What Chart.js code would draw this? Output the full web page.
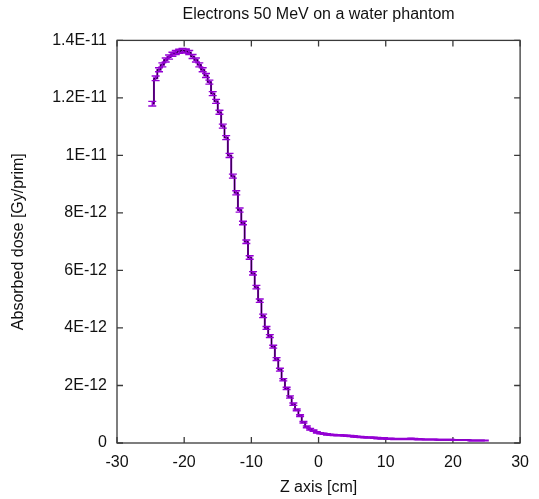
<!DOCTYPE html>
<html>
<head>
<meta charset="utf-8">
<script src="https://cdn.jsdelivr.net/npm/chart.js@4"></script>
<style>
  body { margin: 0; background: #fff; }
  #wrap { width: 539px; height: 499px; }
</style>
</head>
<body>
<div id="wrap"><canvas id="doseChart"></canvas></div>
<script>
// bin centres along Z [cm]
var zCentres = [
  -24.75,-24.25,-23.75,-23.25,-22.75,-22.25,-21.75,-21.25,-20.75,-20.25,
  -19.75,-19.25,-18.75,-18.25,-17.75,-17.25,-16.75,-16.25,-15.75,-15.25,
  -14.75,-14.25,-13.75,-13.25,-12.75,-12.25,-11.75,-11.25,-10.75,-10.25,
  -9.75,-9.25,-8.75,-8.25,-7.75,-7.25,-6.75,-6.25,-5.75,-5.25,
  -4.75,-4.25,-3.75,-3.25,-2.75,-2.25,-1.75,-1.25,-0.75,-0.25,
  0.25,0.75,1.25,1.75,2.25,2.75,3.25,3.75,4.25,4.75,
  5.25,5.75,6.25,6.75,7.25,7.75,8.25,8.75,9.25,9.75,
  10.25,10.75,11.25,11.75,12.25,12.75,13.25,13.75,14.25,14.75,
  15.25,15.75,16.25,16.75,17.25,17.75,18.25,18.75,19.25,19.75,
  20.25,20.75,21.25,21.75,22.25,22.75,23.25,23.75,24.25,24.75
];

// absorbed dose, in units of 1E-12 Gy/prim
var dose = [
  11.80,12.68,12.98,13.15,13.32,13.42,13.52,13.58,13.62,13.65,
  13.63,13.58,13.44,13.32,13.15,12.98,12.78,12.55,12.15,11.88,
  11.50,11.02,10.62,10.00,9.28,8.70,8.10,7.65,7.00,6.45,
  5.90,5.42,4.95,4.42,4.00,3.72,3.35,2.92,2.55,2.20,
  1.90,1.60,1.35,1.15,0.95,0.72,0.56,0.48,0.43,0.37,
  0.34,0.32,0.30,0.29,0.28,0.27,0.27,0.26,0.25,0.24,
  0.23,0.22,0.21,0.20,0.19,0.19,0.18,0.17,0.16,0.16,
  0.15,0.15,0.14,0.14,0.14,0.14,0.14,0.15,0.14,0.13,
  0.13,0.12,0.12,0.12,0.12,0.11,0.11,0.11,0.11,0.11,
  0.10,0.10,0.10,0.10,0.10,0.09,0.09,0.09,0.09,0.09
];

// statistical error, same units
var doseErr = [
  0.08,0.08,0.07,0.07,0.07,0.07,0.07,0.07,0.07,0.07,
  0.07,0.07,0.07,0.07,0.07,0.07,0.07,0.07,0.07,0.07,
  0.07,0.07,0.07,0.07,0.07,0.07,0.07,0.06,0.06,0.06,
  0.06,0.06,0.06,0.06,0.05,0.05,0.05,0.05,0.05,0.04,
  0.04,0.04,0.04,0.03,0.03,0.03,0.03,0.03,0.02,0.02,
  0.02,0.02,0.02,0.02,0.02,0.02,0.02,0.02,0.02,0.02,
  0.02,0.02,0.02,0.02,0.02,0.02,0.02,0.02,0.02,0.02,
  0.02,0.02,0.02,0.02,0.02,0.02,0.02,0.02,0.02,0.02,
  0.01,0.01,0.01,0.01,0.01,0.01,0.01,0.01,0.01,0.01,
  0.01,0.01,0.01,0.01,0.01,0.01,0.01,0.01,0.01,0.01
];

var yTickLabels = ['0', '2E-12', '4E-12', '6E-12', '8E-12', '1E-11', '1.2E-11', '1.4E-11'];

var points = zCentres.map(function(z, i) { return { x: z, y: dose[i] }; });

// gnuplot-like frame with inward ticks on all four sides
var framePlugin = {
  id: 'frame',
  beforeDatasetsDraw: function(chart) {
    var ctx = chart.ctx, a = chart.chartArea;
    var xs = chart.scales.x, ys = chart.scales.y;
    ctx.save();
    ctx.strokeStyle = '#3a3a3a';
    ctx.lineWidth = 1.3;
    ctx.strokeRect(a.left, a.top, a.right - a.left, a.bottom - a.top);
    ctx.beginPath();
    xs.ticks.forEach(function(t) {
      var px = xs.getPixelForValue(t.value);
      ctx.moveTo(px, a.bottom); ctx.lineTo(px, a.bottom - 6);
      ctx.moveTo(px, a.top); ctx.lineTo(px, a.top + 6);
    });
    ys.ticks.forEach(function(t) {
      var py = ys.getPixelForValue(t.value);
      ctx.moveTo(a.left, py); ctx.lineTo(a.left + 6, py);
      ctx.moveTo(a.right, py); ctx.lineTo(a.right - 6, py);
    });
    ctx.stroke();
    ctx.restore();
  }
};

var errorBarPlugin = {
  id: 'errorBars',
  afterDatasetsDraw: function(chart) {
    var ctx = chart.ctx, ys = chart.scales.y;
    var meta = chart.getDatasetMeta(1);
    ctx.save();
    ctx.strokeStyle = '#9400d3';
    ctx.lineWidth = 1.4;
    ctx.beginPath();
    meta.data.forEach(function(el, i) {
      var top = ys.getPixelForValue(dose[i] + doseErr[i]);
      var bot = ys.getPixelForValue(dose[i] - doseErr[i]);
      ctx.moveTo(el.x, top); ctx.lineTo(el.x, bot);
      ctx.moveTo(el.x - 4, top); ctx.lineTo(el.x + 4, top);
      ctx.moveTo(el.x - 4, bot); ctx.lineTo(el.x + 4, bot);
    });
    ctx.stroke();
    ctx.restore();
  }
};

var font = { family: '"Liberation Sans", Arial, sans-serif', size: 16, weight: 'normal' };

var chart = new Chart(document.getElementById('doseChart').getContext('2d'), {
  type: 'line',
  data: {
    datasets: [{
      label: 'histo',
      data: points,
      stepped: 'middle',
      borderColor: '#000',
      borderWidth: 0.8,
      pointRadius: 0
    }, {
      label: 'dose',
      data: points,
      stepped: 'middle',
      borderColor: '#9400d3',
      borderWidth: 2,
      pointRadius: 0
    }]
  },
  options: {
    responsive: true,
    maintainAspectRatio: false,
    animation: false,
    layout: { padding: { left: 0, right: 17, top: 0, bottom: 0 } },
    plugins: {
      legend: { display: false },
      tooltip: { enabled: false },
      title: {
        display: true,
        fullSize: false,
        text: 'Electrons 50 MeV on a water phantom',
        color: '#111',
        font: font,
        padding: { top: 5, bottom: 16.2 }
      }
    },
    scales: {
      x: {
        type: 'linear',
        min: -30, max: 30,
        grid: { display: false, drawTicks: false },
        border: { display: false },
        ticks: { stepSize: 10, color: '#111', font: font, padding: 10, maxRotation: 0 },
        title: { display: true, text: 'Z axis [cm]', color: '#111', font: font, padding: { top: 0, bottom: 2 } },
        afterFit: function(s) { s.height = 56; }
      },
      y: {
        min: 0, max: 14,
        grid: { display: false, drawTicks: false },
        border: { display: false },
        ticks: {
          stepSize: 2, color: '#111', font: font, padding: 10,
          callback: function(v) { return yTickLabels[Math.round(v / 2)]; }
        },
        title: { display: true, text: 'Absorbed dose [Gy/prim]', color: '#111', font: font, padding: { top: 9, bottom: 0 } },
        afterFit: function(s) { s.width = 117; }
      }
    }
  },
  plugins: [framePlugin, errorBarPlugin]
});
</script>
</body>
</html>
